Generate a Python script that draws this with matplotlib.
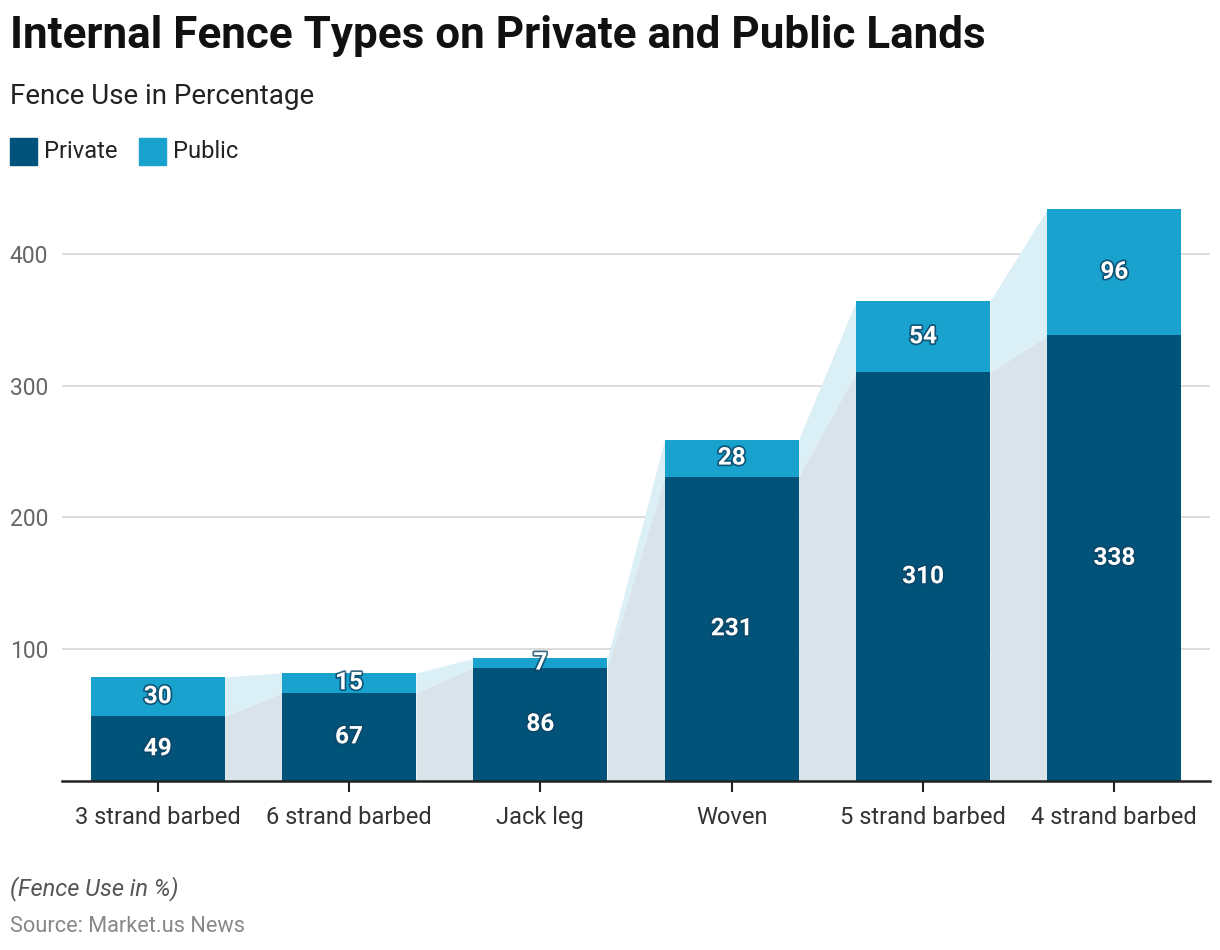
import matplotlib.pyplot as plt
import matplotlib.patheffects as pe
from matplotlib.patches import Rectangle

plt.rcParams['font.family'] = ['Roboto', 'DejaVu Sans']

categories = ["3 strand barbed", "6 strand barbed", "Jack leg", "Woven",
              "5 strand barbed", "4 strand barbed"]
private = [49, 67, 86, 231, 310, 338]
public = [30, 15, 7, 28, 54, 96]

c_private = "#01537a"
c_public = "#1aa2ce"
c_private_fill = "#d8e3ea"
c_public_fill = "#dbeff7"

fig = plt.figure(figsize=(12.2, 9.5), dpi=100)
ax = fig.add_axes([62 / 1220, (950 - 781) / 950, 1148 / 1220, 580 / 950])

x = list(range(len(categories)))
w = 0.7
totals = [a + b for a, b in zip(private, public)]

# connector areas between bars
for i in range(len(x) - 1):
    xs = [x[i] + w / 2, x[i + 1] - w / 2]
    ax.fill_between(xs, [0, 0], [private[i], private[i + 1]],
                    color=c_private_fill, lw=0, zorder=1)
    ax.fill_between(xs, [private[i], private[i + 1]], [totals[i], totals[i + 1]],
                    color=c_public_fill, lw=0, zorder=1)

ax.bar(x, private, width=w, color=c_private, zorder=2)
ax.bar(x, public, width=w, bottom=private, color=c_public, zorder=2)

stroke = [pe.withStroke(linewidth=2.5, foreground="#0d4564", alpha=0.8)]
for i in x:
    ax.text(i, private[i] / 2, str(private[i]), ha="center", va="center",
            color="white", fontsize=17.5, fontweight="bold", path_effects=stroke, zorder=3)
    ax.text(i, private[i] + public[i] / 2, str(public[i]), ha="center", va="center",
            color="white", fontsize=17.5, fontweight="bold", path_effects=stroke, zorder=3)

ax.set_xlim(-0.5, len(x) - 0.5)
ax.set_ylim(0, 440)
ax.set_yticks([100, 200, 300, 400])
ax.yaxis.grid(True, color="#d9d9d9", lw=1.3)
ax.set_axisbelow(True)
for s in ["top", "right", "left"]:
    ax.spines[s].set_visible(False)
ax.spines["bottom"].set_color("#222222")
ax.spines["bottom"].set_linewidth(1.8)
ax.tick_params(axis="y", length=0, labelsize=16.5, labelcolor="#666666", pad=10)
ax.tick_params(axis="x", length=8, width=1.5, color="#222222", labelsize=17,
               labelcolor="#333333", pad=10)
ax.set_xticks(x)
ax.set_xticklabels(categories)

fig.text(10 / 1220, 1 - 36 / 950, "Internal Fence Types on Private and Public Lands",
         fontsize=31.7, fontweight="bold", color="#111111", va="center")
fig.text(10 / 1220, 1 - 97 / 950, "Fence Use in Percentage", fontsize=20,
         color="#222222", va="center")

# legend
fig.patches.append(Rectangle((10 / 1220, 1 - 165 / 950), 27 / 1220, 27 / 950,
                             transform=fig.transFigure, color=c_private))
fig.text(44 / 1220, 1 - 151 / 950, "Private", fontsize=17, color="#222222", va="center")
fig.patches.append(Rectangle((139 / 1220, 1 - 165 / 950), 27 / 1220, 27 / 950,
                             transform=fig.transFigure, color=c_public))
fig.text(173 / 1220, 1 - 151 / 950, "Public", fontsize=17, color="#222222", va="center")

fig.text(10 / 1220, 1 - 889 / 950, "(Fence Use in %)", fontsize=17, style="italic",
         color="#555555", va="center")
fig.text(10 / 1220, 1 - 926 / 950, "Source: Market.us News", fontsize=15.7,
         color="#888888", va="center")

fig.savefig("out.png", dpi=100)
